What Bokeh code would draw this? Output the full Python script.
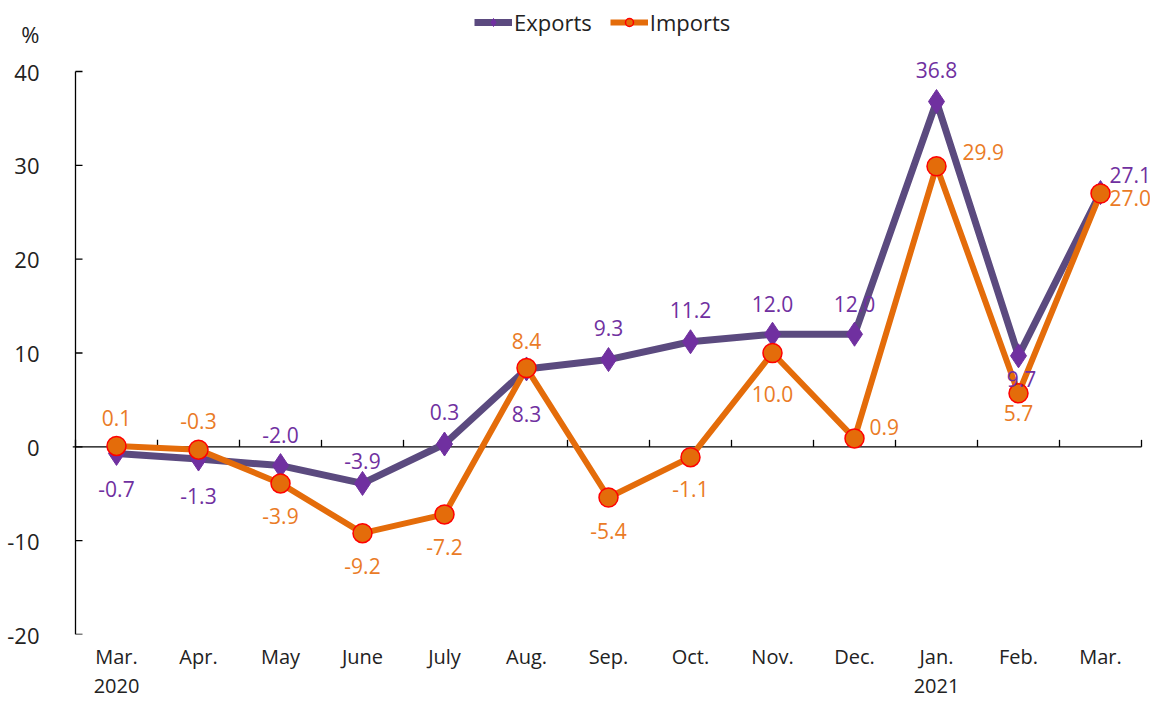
from bokeh.plotting import figure
from bokeh.models import (ColumnDataSource, FixedTicker, Range1d, LinearAxis,
                          Legend, LegendItem, LabelSet)
from bokeh.core.properties import value
from bokeh.embed import file_html
from bokeh.resources import INLINE

months = ["Mar.", "Apr.", "May", "June", "July", "Aug.", "Sep.", "Oct.",
          "Nov.", "Dec.", "Jan.", "Feb.", "Mar."]
years = {0: "2020", 10: "2021"}
exports = [-0.7, -1.3, -2.0, -3.9, 0.3, 8.3, 9.3, 11.2, 12.0, 12.0, 36.8, 9.7, 27.1]
imports = [0.1, -0.3, -3.9, -9.2, -7.2, 8.4, -5.4, -1.1, 10.0, 0.9, 29.9, 5.7, 27.0]
y_ticks = [-20, -10, 0, 10, 20, 30, 40]
unit_label = "%"

# data-label placement in screen pixels (style): (dx, dy, align)
exp_place = [(0, -36, "center"), (0, -37, "center"), (0, 31, "center"), (0, 22, "center"),
             (0, 32, "center"), (0, -45, "center"), (0, 32, "center"), (0, 32, "center"),
             (0, 30, "center"), (0, 30, "center"), (0, 32, "center"), (3, -23, "center"),
             (9, 18, "left")]
imp_place = [(0, 28, "center"), (0, 29, "center"), (0, -33, "center"), (0, -33, "center"),
             (0, -33, "center"), (0, 27, "center"), (0, -33, "center"), (0, -32, "center"),
             (0, -41, "center"), (15, 11, "left"), (26, 14, "left"), (0, -20, "center"),
             (9, -5, "left")]

FONT = "Open Sans"
TXT = "#222222"
EXP_LINE = "#5B4A7F"
EXP_MARK = "#7030A0"
IMP_LINE = "#E46C0A"
IMP_TEXT = "#EA7B26"

n = len(months)
xs = list(range(n))
PX_X = 82.0      # pixels per category
PX_Y = 9.383     # pixels per y unit


def make_source(vals, place):
    return ColumnDataSource(dict(
        x=xs, y=vals, lab=[f"{v:.1f}" for v in vals],
        xo=[q[0] for q in place], yo=[q[1] for q in place], al=[q[2] for q in place]))


src_e = make_source(exports, exp_place)
src_i = make_source(imports, imp_place)

W, H = 1150, 705
LEFT, TOP, BOTTOM = 72, 8, 71
frame_w = W - LEFT
frame_h = H - TOP - BOTTOM
x0 = -0.5 - 3 / PX_X
x1 = x0 + frame_w / PX_X
y0 = y_ticks[0]
y1 = y0 + frame_h / PX_Y

p = figure(width=W, height=H, output_backend="svg", toolbar_location=None,
           x_range=Range1d(x0, x1), y_range=Range1d(y0, y1),
           min_border_left=LEFT, min_border_right=0, min_border_top=TOP,
           min_border_bottom=BOTTOM, outline_line_color=None)
p.xgrid.visible = False
p.ygrid.visible = False
p.background_fill_color = "white"
p.border_fill_color = "white"

# bottom axis: month labels only
xa = p.xaxis[0]
xa.ticker = FixedTicker(ticks=xs)
xa.major_label_overrides = {i: m for i, m in enumerate(months)}
xa.axis_line_color = None
xa.major_tick_line_color = None
xa.minor_tick_line_color = None
xa.major_label_text_font = FONT
xa.major_label_text_font_size = "20px"
xa.major_label_text_color = TXT
xa.major_label_standoff = 2

# second bottom axis: years
ya2 = LinearAxis(ticker=FixedTicker(ticks=list(years.keys())),
                 major_label_overrides=years, axis_line_color=None,
                 major_tick_line_color=None, minor_tick_line_color=None,
                 major_label_text_font=FONT, major_label_text_font_size="20px",
                 major_label_text_color=TXT, major_label_standoff=0)
p.add_layout(ya2, "below")

# left axis: labels only (line and ticks drawn below)
ya = p.yaxis[0]
ya.ticker = FixedTicker(ticks=y_ticks + [y_ticks[-1] + 4])
ya.major_label_overrides = {**{t: str(t) for t in y_ticks}, y_ticks[-1] + 4: unit_label}
ya.axis_line_color = None
ya.major_tick_line_color = None
ya.minor_tick_line_color = None
ya.major_label_text_font = FONT
ya.major_label_text_font_size = "22px"
ya.major_label_text_color = TXT
ya.major_label_standoff = 27

# y axis line and inward ticks
p.segment(x0=[-0.5], y0=[y_ticks[0]], x1=[-0.5], y1=[y_ticks[-1]],
          line_color="black", line_width=1.3)
p.segment(x0=[-0.5] * len(y_ticks), y0=y_ticks, x1=[-0.5 + 7 / PX_X] * len(y_ticks),
          y1=y_ticks, line_color="black", line_width=1.3)

# zero line with category-boundary ticks
bounds = [i - 0.5 for i in range(n + 1)]
p.segment(x0=[-0.5 - 3 / PX_X], y0=[0], x1=[n - 0.5], y1=[0],
          line_color="black", line_width=1.3)
p.segment(x0=bounds, y0=[0] * len(bounds), x1=bounds,
          y1=[7 / PX_Y] * len(bounds), line_color="black", line_width=1.3)

le = p.line("x", "y", source=src_e, line_color=EXP_LINE, line_width=7)
me = p.scatter("x", "y", source=src_e, marker="diamond", size=24, fill_color=EXP_MARK,
               line_color=EXP_MARK)
li = p.line("x", "y", source=src_i, line_color=IMP_LINE, line_width=6)
mi = p.scatter("x", "y", source=src_i, marker="circle", size=19, fill_color=IMP_LINE,
               line_color="#FF0000", line_width=1.5)

for src, col in ((src_e, EXP_MARK), (src_i, IMP_TEXT)):
    p.add_layout(LabelSet(x="x", y="y", text="lab", source=src, x_offset="xo",
                          y_offset="yo", text_align="al", text_baseline="middle",
                          text_font=value(FONT), text_font_size=value("21px"),
                          text_color=value(col)))

legend = Legend(items=[LegendItem(label="Exports", renderers=[le, me]),
                       LegendItem(label="Imports", renderers=[li, mi])],
                orientation="horizontal", location=(402, 597),
                label_text_font=FONT, label_text_font_size="22px",
                label_text_color=TXT, border_line_color=None,
                background_fill_alpha=0, glyph_width=38, spacing=18,
                label_standoff=2, padding=2, margin=0)
p.add_layout(legend)

open("out.html", "w").write(file_html(p, INLINE))
